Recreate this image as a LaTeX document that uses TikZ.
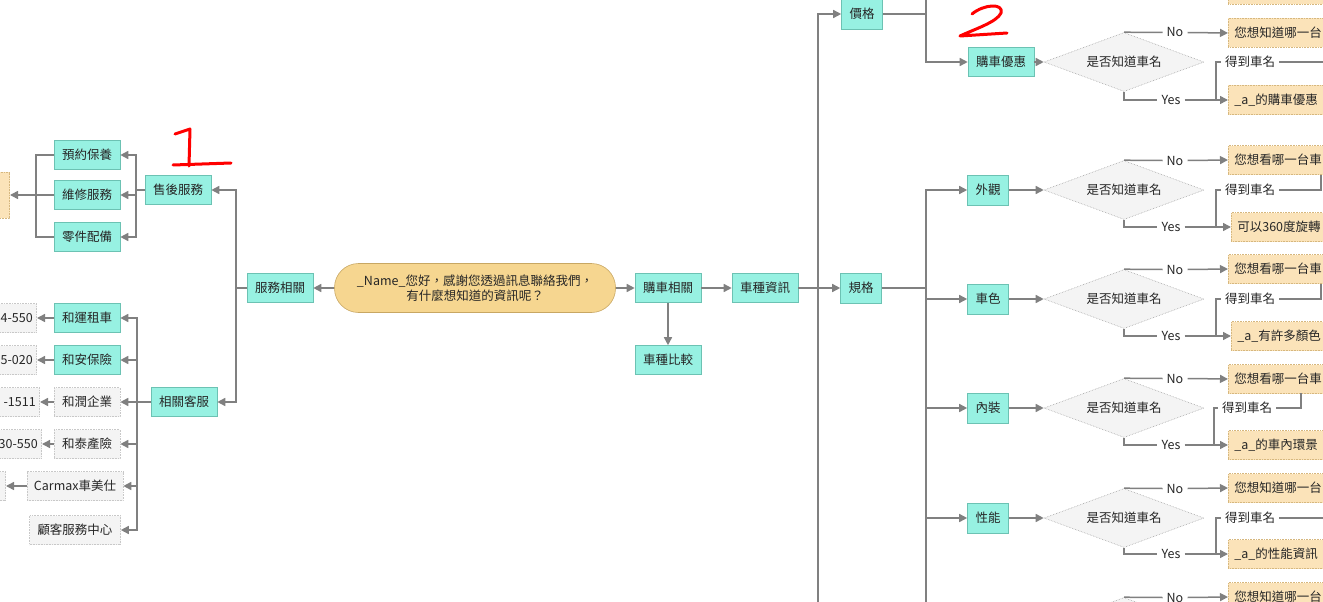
\documentclass[tikz,border=0pt]{standalone}
\usepackage{fontspec}
\setmainfont{Noto Sans CJK TC}
\usepackage{xcolor}
\usepackage{tikz}
\usetikzlibrary{
    shapes.geometric,
    arrows.meta,
    positioning,
    calc
}

\definecolor{tealfill}{HTML}{97F1E2}
\definecolor{tealline}{HTML}{6CC2B3}
\definecolor{leaffill}{HTML}{FBE3B9}
\definecolor{leafline}{HTML}{D6B77E}
\definecolor{pillfill}{HTML}{F6D690}
\definecolor{pillline}{HTML}{C8A763}
\definecolor{infofill}{HTML}{F4F4F4}
\definecolor{infoline}{HTML}{C8C8C8}
\definecolor{linkgray}{HTML}{808080}
\definecolor{txtgray}{HTML}{262626}

\begin{document}
\begin{tikzpicture}[
    x=1pt, y=-1pt,
    font=\fontsize{12.5}{15}\selectfont,
    text=txtgray,
    mainbox/.style={
        rectangle,
        fill=tealfill,
        draw=tealline,
        line width=0.6pt,
        minimum width=66pt,
        minimum height=29pt,
        inner sep=0pt
    },
    smallbox/.style={mainbox, minimum width=41pt, minimum height=30pt},
    infobox/.style={
        rectangle,
        fill=infofill,
        draw=infoline,
        densely dotted,
        line width=0.6pt,
        minimum height=29pt,
        inner sep=5pt
    },
    telbox/.style={infobox, anchor=east, text width=70pt, align=right, inner sep=4pt},
    leafbox/.style={
        rectangle,
        fill=leaffill,
        draw=leafline,
        densely dotted,
        line width=0.6pt,
        minimum height=29pt,
        anchor=west,
        text width=150pt,
        align=left,
        inner sep=6pt
    },
    askbox/.style={
        diamond,
        fill=infofill,
        draw=gray!70,
        densely dotted,
        line width=0.6pt,
        aspect=2.7,
        minimum width=160pt,
        minimum height=59pt,
        inner sep=0pt
    },
    pillbox/.style={
        rectangle,
        rounded corners=24pt,
        fill=pillfill,
        draw=pillline,
        line width=0.6pt,
        minimum width=281pt,
        minimum height=49pt,
        align=center,
        inner sep=2pt
    },
    tag/.style={fill=white, inner xsep=4pt, inner ysep=1pt},
    link/.style={draw=linkgray, line width=1.5pt},
    linkarrow/.style={link, -{Triangle[length=8pt, width=8pt]}},
    annot/.style={draw=red, line width=3pt, line cap=round, line join=round}
]

\clip (0,0) rectangle (1323,602);

% ===== Centre =====
\node[pillbox] (start) at (475,288) {\_Name\_您好，感謝您透過訊息聯絡我們，\\有什麼想知道的資訊呢？};

% ===== Service side =====
\node[mainbox] (fuwu) at (280,288) {服務相關};
\node[mainbox] (shouhou) at (178,190) {售後服務};
\node[mainbox] (kefu) at (184,402) {相關客服};

\draw[linkarrow] (start.west) -- (fuwu.east);
\coordinate (busF) at (236,288);
\draw[link] (fuwu.west) -- (busF);
\draw[linkarrow] (busF) |- (shouhou.east);
\draw[linkarrow] (busF) |- (kefu.east);

% After-sales items
\node[mainbox] (yuyue) at (87,155) {預約保養};
\node[mainbox] (weixiu) at (87,195) {維修服務};
\node[mainbox] (lingjian) at (87,237) {零件配備};
\node[leafbox, anchor=east, text width=60pt, minimum height=46pt] (shouhouEnd) at (10,195) {};

\coordinate (busS) at (136,190);
\draw[link] (shouhou.west) -- (busS);
\draw[linkarrow] (busS) |- (yuyue.east);
\draw[linkarrow] (busS) |- (weixiu.east);
\draw[linkarrow] (busS) |- (lingjian.east);

\coordinate (mergeS) at (36,195);
\draw[link] (yuyue.west) -| (mergeS);
\draw[link] (lingjian.west) -| (mergeS);
\draw[linkarrow] (weixiu.west) -- (shouhouEnd.east);

% Customer service items
\node[mainbox] (heyun) at (87,318) {和運租車};
\node[mainbox] (hean) at (87,360) {和安保險};
\node[infobox, minimum width=66pt, inner sep=0pt] (herun) at (87,402) {和潤企業};
\node[infobox, minimum width=66pt, inner sep=0pt] (hetai) at (87,444) {和泰產險};
\node[infobox, minimum width=96pt, inner sep=0pt] (carmax) at (75,486) {Carmax車美仕};
\node[infobox, minimum width=91pt, inner sep=0pt] (guke) at (75,530) {顧客服務中心};

\coordinate (busK) at (137,402);
\draw[link] (kefu.west) -- (busK);
\draw[linkarrow] (busK) |- (heyun.east);
\draw[linkarrow] (busK) |- (hean.east);
\draw[linkarrow] (busK) -- (herun.east);
\draw[linkarrow] (busK) |- (hetai.east);
\draw[linkarrow] (busK) |- (carmax.east);
\draw[linkarrow] (busK) |- (guke.east);

% Phone numbers
\node[telbox] (heyunTel) at (37,318) {4-550};
\node[telbox] (heanTel) at (37,360) {5-020};
\node[telbox] (herunTel) at (40,402) {-1511};
\node[telbox] (hetaiTel) at (42,444) {30-550};
\node[telbox] (carmaxTel) at (6,486) {};

\draw[linkarrow] (heyun.west) -- (heyunTel.east);
\draw[linkarrow] (hean.west) -- (heanTel.east);
\draw[linkarrow] (herun.west) -- (herunTel.east);
\draw[linkarrow] (hetai.west) -- (hetaiTel.east);
\draw[linkarrow] (carmax.west) -- (carmaxTel.east);

% ===== Purchase side =====
\node[mainbox] (gouche) at (668,288) {購車相關};
\node[mainbox] (bijiao) at (668,360) {車種比較};
\node[mainbox] (chezhong) at (765,288) {車種資訊};

\draw[linkarrow] (start.east) -- (gouche.west);
\draw[linkarrow] (gouche.south) -- (bijiao.north);
\draw[linkarrow] (gouche.east) -- (chezhong.west);

\node[smallbox] (jiage) at (862,14) {價格};
\node[smallbox] (guige) at (861,288) {規格};

\coordinate (busC) at (818,288);
\coordinate (busCend) at (818,640);
\draw[link] (chezhong.east) -- (busC);
\draw[linkarrow] (busC) |- (jiage.west);
\draw[linkarrow] (busC) -- (guige.west);
\draw[link] (busC) -- (busCend);

% Price
\node[mainbox] (youhui) at (1001,62) {購車優惠};
\node[leafbox] (prevReply) at (1228,-10) {};
\coordinate (busP) at (926,14);
\draw[link] (jiage.east) -- (busP);
\draw[link] (busP) -- (926,-30);
\draw[linkarrow] (busP) |- (youhui.west);

% Specs
\node[smallbox] (waiguan) at (988,190) {外觀};
\node[smallbox] (chese) at (988,299) {車色};
\node[smallbox] (neizhuang) at (988,408) {內裝};
\node[smallbox] (xingneng) at (988,518) {性能};

\coordinate (busG) at (926,288);
\coordinate (busGend) at (926,640);
\draw[link] (guige.east) -- (busG);
\draw[linkarrow] (busG) |- (waiguan.west);
\draw[linkarrow] (busG) |- (chese.west);
\draw[linkarrow] (busG) |- (neizhuang.west);
\draw[linkarrow] (busG) |- (xingneng.west);
\draw[link] (busG) -- (busGend);

% ----- 購車優惠 -----
\node[askbox] (q1) at (1124,62) {是否知道車名};
\node[tag] (no1) at (1175,32.5) {No};
\node[tag] (yes1) at (1171,100) {Yes};
\node[tag] (get1) at (1250,62) {得到車名};
\node[leafbox] (ask1) at (1228,33) {您想知道哪一台};
\node[leafbox] (ans1) at (1228,100) {\_a\_的購車優惠};
\coordinate (back1) at (1340,62);
\coordinate (join1) at (1216,100);
\draw[linkarrow] (youhui.east) -- (q1.west);
\draw[link] (q1.north) -- (no1.west);
\draw[linkarrow] (no1.east) -- (ask1.west);
\draw[link] (q1.south) |- (yes1.west);
\draw[linkarrow] (yes1.east) -- (ans1.west);
\draw[link] (back1) -- (get1.east);
\draw[link] (get1.west) -| (join1);

% ----- 外觀 -----
\node[askbox] (q2) at (1124,190) {是否知道車名};
\node[tag] (no2) at (1175,160.5) {No};
\node[tag] (yes2) at (1171,227) {Yes};
\node[tag] (get2) at (1250,190) {得到車名};
\node[leafbox] (ask2) at (1228,160) {您想看哪一台車};
\node[leafbox] (ans2) at (1231,227) {可以360度旋轉};
\coordinate (back2) at (1321,175);
\coordinate (join2) at (1216,227);
\draw[linkarrow] (waiguan.east) -- (q2.west);
\draw[link] (q2.north) -- (no2.west);
\draw[linkarrow] (no2.east) -- (ask2.west);
\draw[link] (q2.south) |- (yes2.west);
\draw[linkarrow] (yes2.east) -- (ans2.west);
\draw[link] (back2) |- (get2.east);
\draw[link] (get2.west) -| (join2);

% ----- 車色 -----
\node[askbox] (q3) at (1124,299) {是否知道車名};
\node[tag] (no3) at (1175,269.5) {No};
\node[tag] (yes3) at (1171,336) {Yes};
\node[tag] (get3) at (1250,299) {得到車名};
\node[leafbox] (ask3) at (1228,269) {您想看哪一台車};
\node[leafbox] (ans3) at (1231,336) {\_a\_有許多顏色};
\coordinate (back3) at (1321,284);
\coordinate (join3) at (1216,336);
\draw[linkarrow] (chese.east) -- (q3.west);
\draw[link] (q3.north) -- (no3.west);
\draw[linkarrow] (no3.east) -- (ask3.west);
\draw[link] (q3.south) |- (yes3.west);
\draw[linkarrow] (yes3.east) -- (ans3.west);
\draw[link] (back3) |- (get3.east);
\draw[link] (get3.west) -| (join3);

% ----- 內裝 -----
\node[askbox] (q4) at (1124,408) {是否知道車名};
\node[tag] (no4) at (1175,378.5) {No};
\node[tag] (yes4) at (1171,445) {Yes};
\node[tag] (get4) at (1247,408) {得到車名};
\node[leafbox] (ask4) at (1228,379) {您想看哪一台車};
\node[leafbox] (ans4) at (1228,445) {\_a\_的車內環景};
\coordinate (back4) at (1301,393);
\coordinate (join4) at (1214,445);
\draw[linkarrow] (neizhuang.east) -- (q4.west);
\draw[link] (q4.north) -- (no4.west);
\draw[linkarrow] (no4.east) -- (ask4.west);
\draw[link] (q4.south) |- (yes4.west);
\draw[linkarrow] (yes4.east) -- (ans4.west);
\draw[link] (back4) |- (get4.east);
\draw[link] (get4.west) -| (join4);

% ----- 性能 -----
\node[askbox] (q5) at (1124,518) {是否知道車名};
\node[tag] (no5) at (1175,488.5) {No};
\node[tag] (yes5) at (1171,554) {Yes};
\node[tag] (get5) at (1250,518) {得到車名};
\node[leafbox] (ask5) at (1228,488) {您想知道哪一台};
\node[leafbox] (ans5) at (1228,554) {\_a\_的性能資訊};
\coordinate (back5) at (1340,518);
\coordinate (join5) at (1216,554);
\draw[linkarrow] (xingneng.east) -- (q5.west);
\draw[link] (q5.north) -- (no5.west);
\draw[linkarrow] (no5.east) -- (ask5.west);
\draw[link] (q5.south) |- (yes5.west);
\draw[linkarrow] (yes5.east) -- (ans5.west);
\draw[link] (back5) -- (get5.east);
\draw[link] (get5.west) -| (join5);

% ----- next one, cut off -----
\node[askbox] (q6) at (1124,627) {};
\node[tag] (no6) at (1175,597.5) {No};
\node[leafbox] (ask6) at (1228,597) {您想知道哪一台};
\draw[link] (q6.north) -- (no6.west);
\draw[linkarrow] (no6.east) -- (ask6.west);

% ===== Red marks =====
\draw[annot] (175,134) -- (190,129) -- (189,166);
\draw[annot] (173,165) -- (231,163);
\draw[annot] (972,14) .. controls (984,4) and (1004,3) .. (1001,13)
    .. controls (997,22) and (975,29) .. (960,36) -- (1007,33);

\end{tikzpicture}
\end{document}
